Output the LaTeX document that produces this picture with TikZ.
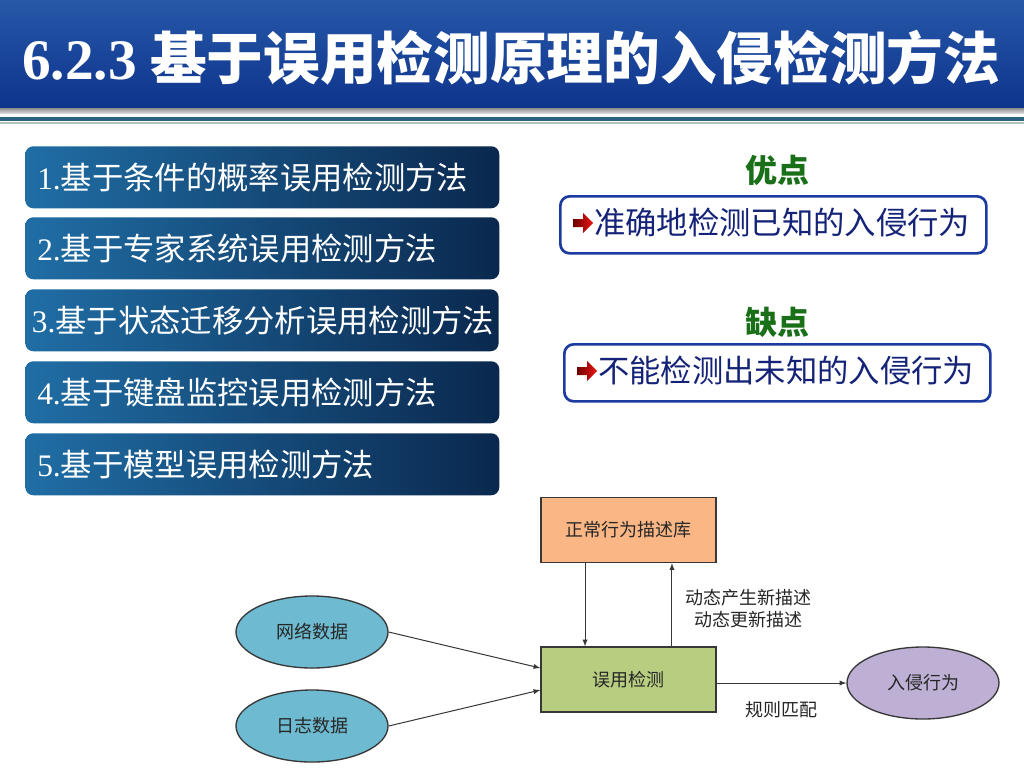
\documentclass[tikz,border=0pt]{standalone}
\usepackage{fontspec}
\setmainfont{Liberation Serif}
\newfontfamily\cjk{Noto Sans CJK SC}
\usetikzlibrary{shapes.geometric, calc}

\definecolor{titleTop}{RGB}{38,88,168}
\definecolor{titleBot}{RGB}{14,52,140}
\definecolor{lineTeal}{RGB}{45,98,128}
\definecolor{lineLight}{RGB}{178,196,192}
\definecolor{boxL}{RGB}{32,110,165}
\definecolor{boxR}{RGB}{10,40,78}
\definecolor{proBlue}{RGB}{28,58,160}
\definecolor{txtBlue}{RGB}{20,35,120}
\definecolor{ptGreen}{RGB}{25,112,25}
\definecolor{arrDark}{RGB}{110,0,0}
\definecolor{arrRed}{RGB}{235,20,20}
\definecolor{libFill}{RGB}{250,182,132}
\definecolor{detFill}{RGB}{183,205,128}
\definecolor{netFill}{RGB}{110,186,208}
\definecolor{intFill}{RGB}{190,176,212}
\definecolor{edgeGray}{RGB}{55,55,55}

\newcommand\redarrow[1]{\shade[left color=arrDark, right color=arrRed] ($(#1)+(-21,-4)$) -- ++(10,0) -- ++(0,-6) -- ++(10,10) -- ++(-10,10) -- ++(0,-6) -- ++(-10,0) -- cycle;}

\begin{document}
\begin{tikzpicture}[x=0.75pt, y=-0.75pt,
    meth/.style={rectangle, rounded corners=6pt, anchor=north west, minimum height=46.5pt, text width=337.5pt, inner xsep=9pt, align=left, left color=boxL, right color=boxR, text=white, font=\fontsize{23.5}{27}\selectfont},
    pro/.style={rectangle, rounded corners=7pt, draw=proBlue, line width=2pt, anchor=north west, minimum width=319.5pt, minimum height=42.75pt},
    protxt/.style={anchor=west, inner sep=0pt, text=txtBlue, font=\cjk\fontsize{23.5}{27}\selectfont},
    head/.style={text=ptGreen, font=\cjk\bfseries\fontsize{24}{28}\selectfont},
    blk/.style={rectangle, draw=edgeGray, line width=1pt, minimum width=131.25pt, minimum height=48.75pt, text=black!85, font=\cjk\fontsize{13.5}{16}\selectfont},
    src/.style={ellipse, draw=edgeGray, line width=1pt, inner sep=0pt, minimum width=114pt, minimum height=54pt, text=black!85, font=\cjk\fontsize{13.5}{16}\selectfont},
    lbl/.style={text=black!85, align=center, font=\cjk\fontsize{13.5}{16.5}\selectfont},
    n/.style={-latex, line width=0.75pt, draw=edgeGray}]
    \useasboundingbox (0,0) rectangle (1024,768);
    \fill[white] (0,0) rectangle (1024,768);
    % title bar
    \shade[top color=titleTop, bottom color=titleBot] (0,0) rectangle (1024,108);
    \shade[top color=black!45, bottom color=black!15] (0,108) rectangle (1024,113);
    \fill[lineTeal] (0,117) rectangle (1024,121);
    \fill[lineLight] (0,122) rectangle (1024,124);
    \node[anchor=west, text=white, inner sep=0pt] (title) at (22,58) {\bfseries\fontsize{43}{50}\selectfont 6.2.3\hspace{10pt}{\cjk\fontsize{42.5}{50}\selectfont 基于误用检测原理的入侵检测方法}};
    % methods
    \node[meth] (m1) at (25,146) {1.{\cjk 基于条件的概率误用检测方法}};
    \node[meth] (m2) at (25,217) {2.{\cjk 基于专家系统误用检测方法}};
    \node[meth, inner xsep=5pt, text width=345pt] (m3) at (25,289) {3.{\cjk 基于状态迁移分析误用检测方法}};
    \node[meth] (m4) at (25,361) {4.{\cjk 基于键盘监控误用检测方法}};
    \node[meth] (m5) at (25,433) {5.{\cjk 基于模型误用检测方法}};
    % pros and cons
    \node[head] (adv) at (777,170) {优点};
    \node[pro] (advbox) at (559,195) {};
    \node[protxt] (advtxt) at (594,223) {准确地检测已知的入侵行为};
    \redarrow{advtxt.west}
    \node[head] (dis) at (777,322) {缺点};
    \node[pro] (disbox) at (563,343) {};
    \node[protxt] (distxt) at (598,371) {不能检测出未知的入侵行为};
    \redarrow{distxt.west}
    % diagram nodes
    \node[blk, fill=libFill] (lib) at (628.5,530) {正常行为描述库};
    \node[blk, fill=detFill] (det) at (628.5,679.5) {误用检测};
    \node[src, fill=netFill] (net) at (312,632) {网络数据};
    \node[src, fill=netFill] (log) at (312,726) {日志数据};
    \node[src, fill=intFill] (ids) at (923,683) {入侵行为};
    \node[lbl] (upd) at (748,609) {动态产生新描述\\动态更新描述};
    \node[lbl] (rul) at (781,710) {规则匹配};
    % diagram edges
    \draw[n] ([xshift=-32.6pt]lib.south) -- ([xshift=-32.6pt]det.north);
    \draw[n] ([xshift=32.6pt]det.north) -- ([xshift=32.6pt]lib.south);
    \draw[n] (net.east) -- ([yshift=8.6pt]det.west);
    \draw[n] (log.east) -- ([yshift=-7.9pt]det.west);
    \draw[n] (det.east |- ids.west) -- (ids.west);
\end{tikzpicture}
\end{document}
